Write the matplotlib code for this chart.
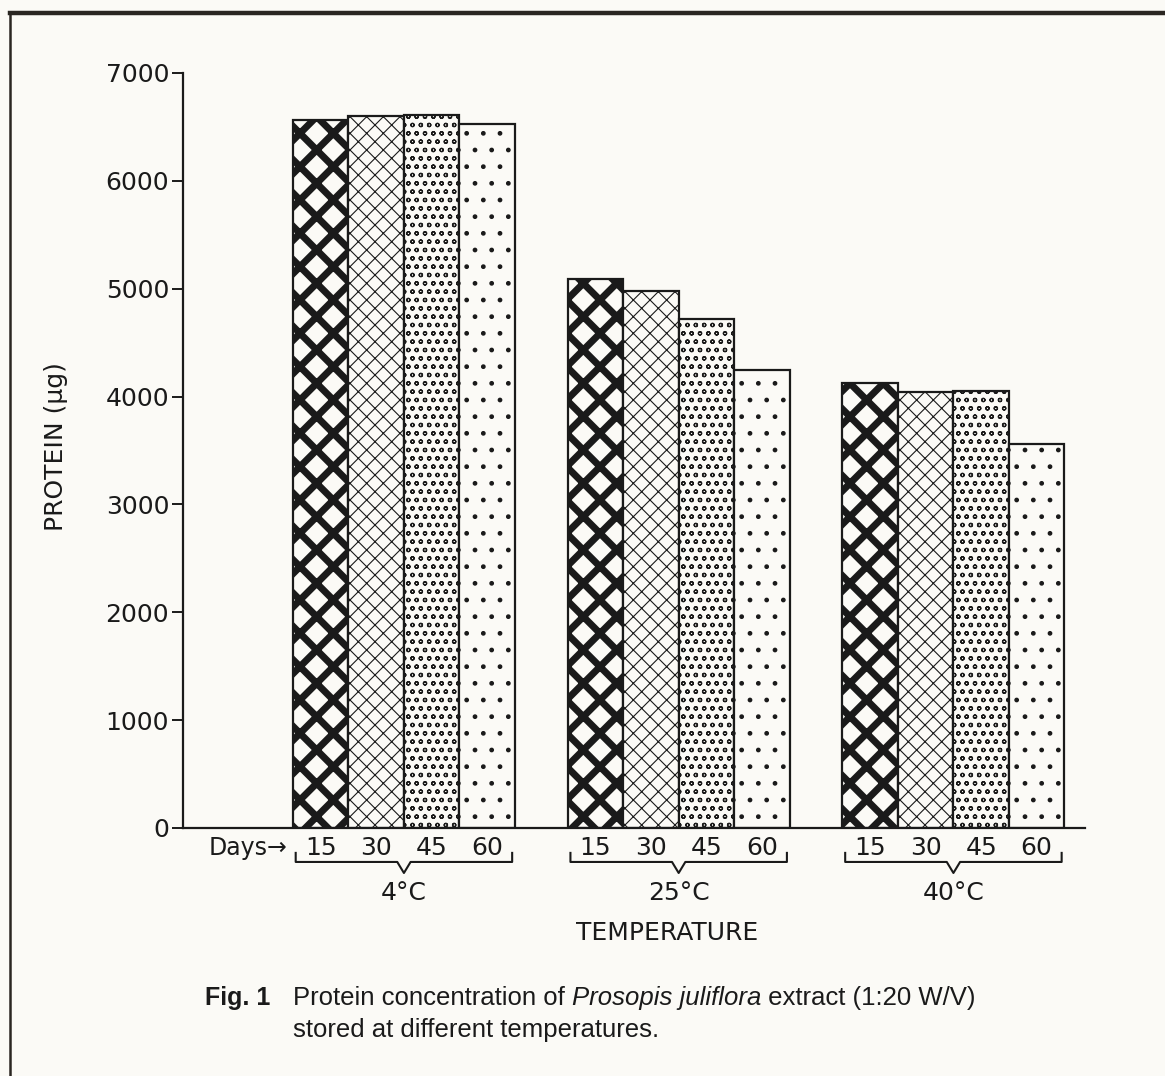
import matplotlib
matplotlib.use("Agg")
import matplotlib.pyplot as plt
from matplotlib.lines import Line2D

# data
temperatures = ["4°C", "25°C", "40°C"]
days = ["15", "30", "45", "60"]
protein_15 = [6560, 5090, 4125]
protein_30 = [6605, 4980, 4045]
protein_45 = [6610, 4720, 4050]
protein_60 = [6525, 4245, 3560]
yticks = [0, 1000, 2000, 3000, 4000, 5000, 6000, 7000]

series = [protein_15, protein_30, protein_45, protein_60]
hatches = ["x", "xx", "oo", "."]
hatch_lw = [5.0, 0.8, 0.9, 1.0]

paper = "#fbfaf6"
ink = "#1a1a1a"
font = "DejaVu Sans"

fig = plt.figure(figsize=(11.65, 10.76), dpi=100, facecolor=paper)
ax = fig.add_axes([0.1571, 0.2305, 0.7742, 0.7017])
ax.set_facecolor(paper)

first = 1.98
step = 4.95
for j, vals in enumerate(series):
    xs = [first + g * step + j + 0.5 for g in range(len(temperatures))]
    bars = ax.bar(xs, vals, width=1.0, facecolor=paper, edgecolor=ink,
                  linewidth=1.6, hatch=hatches[j], zorder=2)
    for b in bars:
        try:
            b.set_hatch_linewidth(hatch_lw[j])
        except AttributeError:
            pass

ax.set_xlim(0, 16.25)
ax.set_ylim(0, 7000)
ax.set_yticks(yticks)
ax.set_yticklabels([str(t) for t in yticks], fontsize=18, family=font, color=ink)
ax.tick_params(axis="y", direction="out", length=8, width=1.4, pad=2, color=ink)
ax.tick_params(axis="x", bottom=False, labelbottom=False)
for s in ["top", "right"]:
    ax.spines[s].set_visible(False)
ax.spines["left"].set_linewidth(1.6)
ax.spines["bottom"].set_linewidth(1.6)
ax.spines["left"].set_color(ink)
ax.spines["bottom"].set_color(ink)

ax.set_ylabel("PROTEIN (µg)", fontsize=18, family=font, color=ink)
ax.yaxis.set_label_coords(-0.127, 0.505)

# day labels, brackets and temperature labels under the axis
tr = ax.get_xaxis_transform()
ax.text(first - 0.1, -0.0265, "Days→", transform=tr, ha="right", va="center",
        fontsize=17, family=font, color=ink)
for g, temp in enumerate(temperatures):
    g0 = first + g * step
    for j, d in enumerate(days):
        ax.text(g0 + j + 0.5, -0.0265, d, transform=tr, ha="center", va="center",
                fontsize=18, family=font, color=ink)
    left, right, mid = g0 + 0.05, g0 + 3.95, g0 + 2.0
    bx = [left, left, mid - 0.12, mid, mid + 0.12, right, right]
    by = [-0.033, -0.045, -0.045, -0.0596, -0.045, -0.045, -0.033]
    ax.add_line(Line2D(bx, by, transform=tr, color=ink, lw=1.5, clip_on=False))
    ax.text(mid, -0.086, temp, transform=tr, ha="center", va="center",
            fontsize=18, family=font, color=ink)

ax.text(0.5372, -0.139, "TEMPERATURE", transform=ax.transAxes, ha="center",
        va="center", fontsize=18, family=font, color=ink)

# page frame of the scan
fig.add_artist(Line2D([10 / 1165, 1.0], [1 - 13 / 1076] * 2, color="#2a2622", lw=3.2))
fig.add_artist(Line2D([10 / 1165] * 2, [0.0, 1 - 13 / 1076], color="#2a2622", lw=1.8))

# caption with italic species name
cap = ["Liberation Sans Narrow", "Liberation Sans"]
fig.text(205 / 1165, 1 - 998 / 1076, "Fig. 1", fontsize=18, weight="bold",
         family=cap, color=ink, va="center")
fig.canvas.draw()
r = fig.canvas.get_renderer()
x = 293 / 1165
y1 = 1 - 998 / 1076
for txt, style in [("Protein concentration of ", "normal"),
                   ("Prosopis juliflora", "italic"),
                   (" extract (1:20 W/V)", "normal")]:
    t = fig.text(x, y1, txt, fontsize=18.5, style=style, family=cap, color=ink, va="center")
    w = t.get_window_extent(r).width
    x += w / 1165
fig.text(293 / 1165, 1 - 1030 / 1076, "stored at different temperatures.",
         fontsize=18.5, family=cap, color=ink, va="center")

fig.savefig("out.png", dpi=100, facecolor=paper)
